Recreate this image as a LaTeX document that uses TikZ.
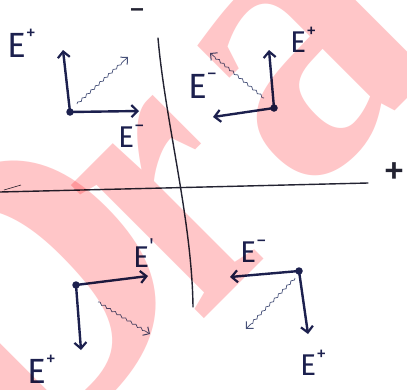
\documentclass[tikz,border=0pt]{standalone}
\usepackage{fontspec}
\setmainfont{Fira Sans}
\newfontfamily\wmfont{Liberation Serif}
\usetikzlibrary{arrows.meta,decorations.pathmorphing}
\definecolor{ink}{RGB}{28,32,78}
\definecolor{axisink}{RGB}{35,35,50}
\definecolor{wavyink}{RGB}{70,80,120}
\definecolor{wmpink}{RGB}{255,198,200}
\newcommand\Esup[1]{E\raisebox{.5em}{\fontsize{20}{20}\selectfont #1}}
\begin{document}
\begin{tikzpicture}[x=1pt,y=-1pt,
  vec/.style={line width=2.4pt, draw=ink, line cap=round,
    -{Straight Barb[length=6pt,width=12pt,line width=2.2pt]}},
  wavyvec/.style={draw=wavyink, line width=0.7pt, decorate,
    decoration={snake,amplitude=1pt,segment length=6pt,post length=6pt},
    -{Straight Barb[length=5pt,width=10pt,line width=1pt]}},
  dot/.style={circle, fill=ink, inner sep=0pt, minimum size=7.5pt},
  lab/.style={text=ink, inner sep=0pt, anchor=base west, font=\fontsize{30}{30}\selectfont},
  biglab/.style={lab, font=\fontsize{35}{35}\selectfont},
  axis/.style={draw=axisink, line width=1.4pt, line cap=round},
  wm/.style={rotate=45, anchor=base west, inner sep=0pt, text=wmpink,
    font=\wmfont\bfseries\fontsize{410}{410}\selectfont}]
\useasboundingbox (0,0) rectangle (407,389);
\fill[white] (0,0) rectangle (407,389);

% axes
\coordinate (hL) at (0,192);
\coordinate (hR) at (368,183);
\coordinate (tickA) at (4,190);
\coordinate (tickB) at (21,185);
\draw[axis] (hL) -- (hR);
\draw[axisink, line width=0.6pt] (tickA) -- (tickB);
\coordinate (vT) at (158,38);
\coordinate (vB) at (193,307);
\draw[axis] (vT) .. controls (165,120) and (192,220) .. (vB);
\node[text=axisink, font=\fontsize{32}{32}\selectfont, inner sep=0pt] (minus) at (137,15) {−};
\node[text=axisink, font=\fontsize{44}{44}\selectfont, inner sep=0pt] (plus) at (394,174) {+};

% top-left
\node[dot] (tl) at (70,112) {};
\coordinate (tlU) at (63,50);
\coordinate (tlR) at (139,111);
\coordinate (tlW0) at (77,104);
\coordinate (tlW) at (128,57);
\draw[vec] (tl.center) -- (tlU);
\draw[vec] (tl.center) -- (tlR);
\draw[wavyvec] (tlW0) -- (tlW);
\node[biglab] (tlEp) at (7,57) {\Esup{+}};
\node[lab] (tlEm) at (118,147) {\Esup{−}};

% top-right
\node[dot] (tr) at (274,108) {};
\coordinate (trU) at (269,50);
\coordinate (trL) at (213,117);
\coordinate (trW0) at (264,98);
\coordinate (trW) at (210,53);
\draw[vec] (tr.center) -- (trU);
\draw[vec] (tr.center) -- (trL);
\draw[wavyvec] (trW0) -- (trW);
\node[biglab] (trEm) at (188,98) {\Esup{−}};
\node[lab] (trEp) at (290,52) {\Esup{+}};

% bottom-left
\node[dot] (bl) at (76,285) {};
\coordinate (blR) at (148,276);
\coordinate (blD) at (81,350);
\coordinate (blW0) at (98,302);
\coordinate (blW) at (150,334);
\draw[vec] (bl.center) -- (blR);
\draw[vec] (bl.center) -- (blD);
\draw[wavyvec] (blW0) -- (blW);
\node[lab] (blEq) at (133,267) {\Esup{\textquotesingle}};
\node[biglab] (blEp) at (27,383) {\Esup{+}};

% bottom-right
\node[dot] (br) at (299,271) {};
\coordinate (brL) at (230,277);
\coordinate (brD) at (308,334);
\coordinate (brW0) at (295,278);
\coordinate (brW) at (246,329);
\draw[vec] (br.center) -- (brL);
\draw[vec] (br.center) -- (brD);
\draw[wavyvec] (brW0) -- (brW);
\node[lab] (brEm) at (240,262) {\Esup{−}};
\node[lab] (brEp) at (300,375) {\Esup{+}};

% watermark
\begin{scope}[blend mode=multiply]
\node[wm] (wmD) at (7,499) {D};
\node[wm, xscale=0.75] (wmr) at (198,325) {r};
\node[wm] (wma) at (303,203) {aft};
\end{scope}
\end{tikzpicture}
\end{document}
